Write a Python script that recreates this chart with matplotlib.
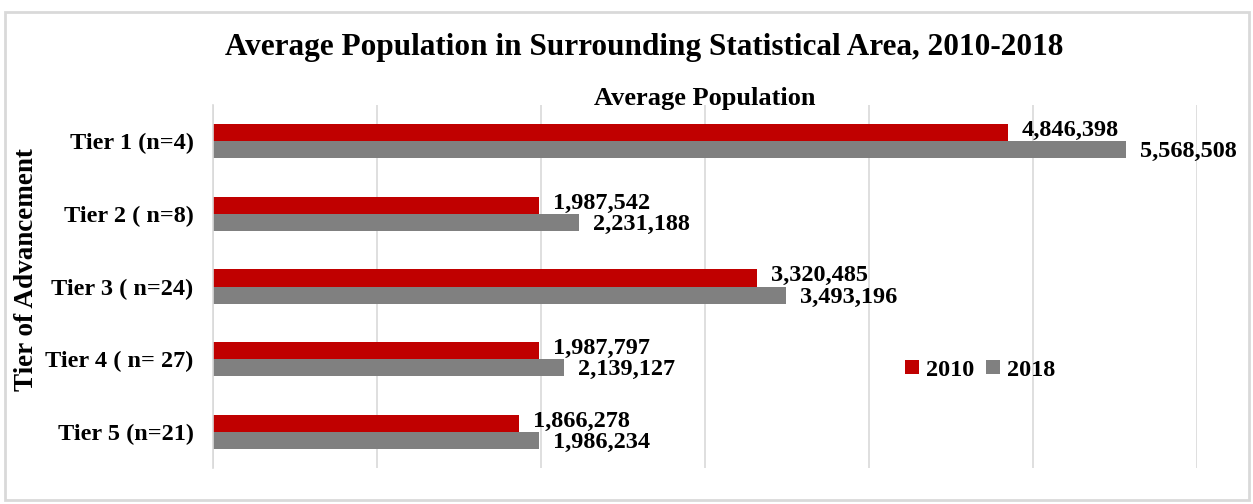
import matplotlib.pyplot as plt
import numpy as np
from matplotlib.patches import Rectangle

categories = ["Tier 1 (n=4)", "Tier 2 ( n=8)", "Tier 3 ( n=24)", "Tier 4 ( n= 27)", "Tier 5 (n=21)"]
pop_2010 = [4846398, 1987542, 3320485, 1987797, 1866278]
pop_2018 = [5568508, 2231188, 3493196, 2139127, 1986234]

plt.rcParams['font.family'] = ['Liberation Serif', 'DejaVu Serif']
plt.rcParams['font.weight'] = 'bold'

fig = plt.figure(figsize=(12.53, 5.04), dpi=100)
ax = fig.add_axes([0.170, 0.071, 0.785, 0.721])

y = np.arange(len(categories))
h = 0.235
ax.barh(y - h / 2, pop_2010, height=h, color='#C00000', label='2010')
ax.barh(y + h / 2, pop_2018, height=h, color='#808080', label='2018')

for yi, v in zip(y, pop_2010):
    ax.text(v + 85000, yi - h / 2 - 0.03, f"{v:,}", va='center', ha='left', fontsize=17.5, fontweight='bold')
for yi, v in zip(y, pop_2018):
    ax.text(v + 85000, yi + h / 2 + 0.03, f"{v:,}", va='center', ha='left', fontsize=17.5, fontweight='bold')

ax.set_xlim(0, 6000000)
ax.set_ylim(4.5, -0.5)
ax.set_xticks(np.arange(0, 6000001, 1000000))
ax.set_xticklabels([])
ax.tick_params(axis='x', length=0)
ax.tick_params(axis='y', length=0, labelsize=17.5, pad=14)
ax.set_yticks(y)
ax.set_yticklabels(categories, fontweight='bold')
ax.grid(axis='x', color='#D9D9D9', linewidth=1.2)
ax.set_axisbelow(True)
for s in ['top', 'right', 'bottom']:
    ax.spines[s].set_visible(False)
ax.spines['left'].set_color('#D9D9D9')
ax.spines['left'].set_linewidth(1.2)

ax.set_xlabel("Average Population", fontsize=19, fontweight='bold', labelpad=0)
ax.xaxis.set_label_position('top')
fig.text(27 / 1253, 1 - 270 / 504, "Tier of Advancement", rotation=90, ha='center', va='center',
         fontsize=19.5, fontweight='bold')

fig.text(0.514, 0.905, "Average Population in Surrounding Statistical Area, 2010-2018",
         ha='center', va='center', fontsize=22.5, fontweight='bold')

ax.legend(loc='center', bbox_to_anchor=(0.78, 0.27), ncol=2, frameon=False,
          fontsize=17.5, handlelength=0.55, handleheight=0.55, handletextpad=0.3, columnspacing=0.5)

fig.patches.append(Rectangle((5 / 1253, 4 / 504), 1244 / 1253, 488 / 504, transform=fig.transFigure,
                             fill=False, edgecolor='#D9D9D9', linewidth=2))

fig.savefig("out.png", dpi=100)
